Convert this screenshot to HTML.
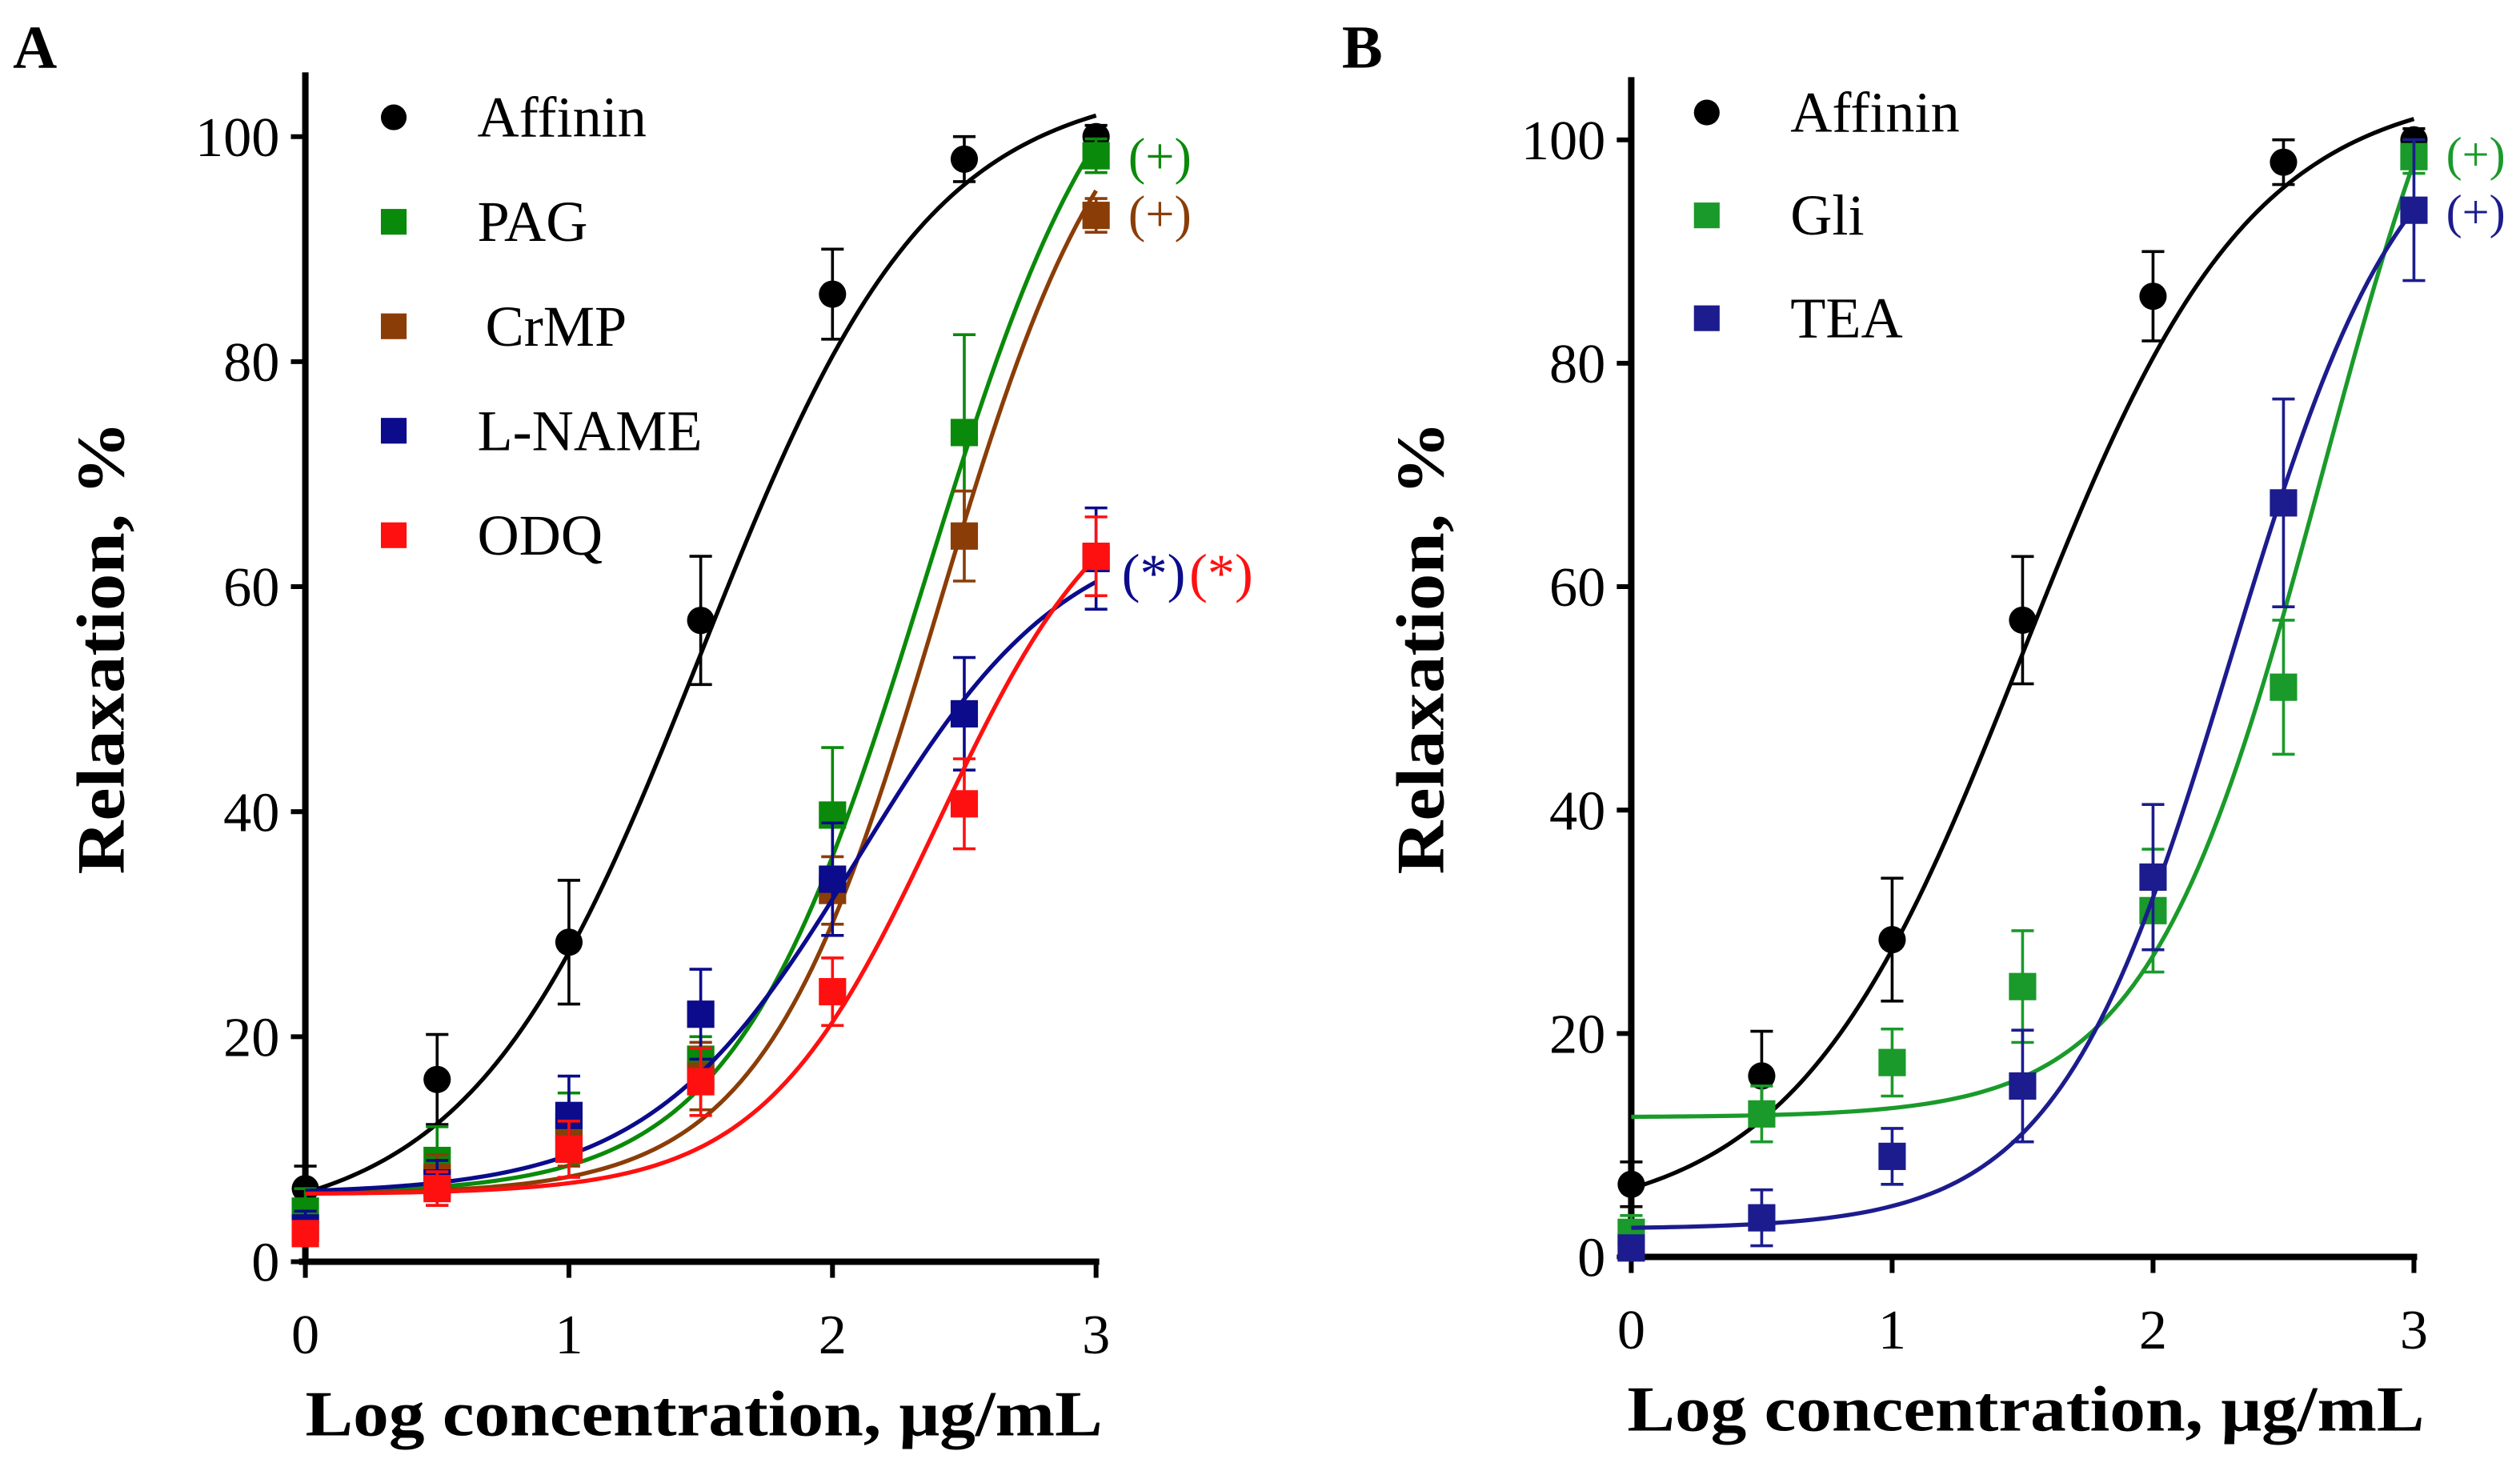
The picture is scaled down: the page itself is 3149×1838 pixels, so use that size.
<!DOCTYPE html>
<html><head><meta charset="utf-8"><style>
html,body{margin:0;padding:0;background:#fff;}
svg{display:block;font-family:"Liberation Serif",serif;}
</style></head><body>
<svg id="chart" width="3149" height="1838" viewBox="0 0 1568 915.2"></svg>
<script>
const xCats=[0,0.5,1,1.5,2,2.5,3];
const xTicks=[0,1,2,3];
const yTicks=[0,20,40,60,80,100];
// Panel A
const affininVals=[6.5,16.2,28.4,57,86,98,100];
const affininErr=[2,4,5.5,5.7,4,2,1];
const pagVals=[4.5,9,12,18,39.7,73.7,98.3];
const pagErr=[2,3,3,2,6,8.7,1.5];
const crmpVals=[3,7.5,10.5,16.5,33,64.5,93];
const crmpErr=[1.5,2,2,3,3,4,1.5];
const lnameVals=[3,7,13,22,34,48.7,62.5];
const lnameErr=[1.5,2,3.5,4,5,5,4.5];
const odqVals=[2.5,6.5,10,16,24,40.7,62.7];
const odqErr=[1,1.5,2.5,3,3,4,3.5];
// Panel B
const gliVals=[2.2,12.8,17.4,24.2,31,51,98.5];
const gliErr=[1.5,2.5,3,5,5.5,6,1.5];
const teaVals=[0.8,3.5,9,15.3,34,67.5,93.7];
const teaErr=[1,2.5,2.5,5,6.5,9.3,6.3];
// logistic fit params [bottom, top, logEC50, hill]
const affininFit=[3,105,1.5,1.0];
const pagFit=[6,115,2.35,1.2];
const crmpFit=[6,110,2.4,1.3];
const lnameFit=[6,66,2.1,1.1];
const odqFit=[6,72,2.4,1.3];
const gliFit=[12.5,128,2.65,1.3];
const teaFit=[2.5,105,2.3,1.3];

const svg=document.getElementById('chart');
const NS='http://www.w3.org/2000/svg';
function mk(tag,attrs,parent){const e=document.createElementNS(NS,tag);for(const k in attrs)e.setAttribute(k,attrs[k]);(parent||svg).appendChild(e);return e;}
function txt(s,attrs,parent){const e=mk('text',attrs,parent);e.textContent=s;return e;}
function logistic(p,x){return p[0]+(p[1]-p[0])/(1+Math.pow(10,(p[2]-x)*p[3]));}

function panel(cfg){
  const g=mk('g',{});
  
  
  const X=v=>cfg.x0+(cfg.x3-cfg.x0)*v/3;
  const Y=v=>cfg.y0+(cfg.y100-cfg.y0)*v/100;
  const lbl=txt(cfg.letter,{x:cfg.lx,y:42,'font-size':38,'font-weight':'bold'},g);
  
  
  const ya=mk('line',{x1:cfg.x0,y1:cfg.yTop,x2:cfg.x0,y2:cfg.y0+2,stroke:'#000','stroke-width':4},g);
  
  
  const xa=mk('line',{x1:cfg.x0-4,y1:cfg.y0,x2:cfg.x3+2,y2:cfg.y0,stroke:'#000','stroke-width':4},g);
  
  
  yTicks.forEach(t=>{
    mk('line',{x1:cfg.x0-9,y1:Y(t),x2:cfg.x0,y2:Y(t),stroke:'#000','stroke-width':3},g);
    const tl=txt(String(t),{x:cfg.x0-16,y:Y(t)+12,'font-size':35,'text-anchor':'end'},g);
    
    
  });
  xTicks.forEach(t=>{
    mk('line',{x1:X(t),y1:cfg.y0,x2:X(t),y2:cfg.y0+10,stroke:'#000','stroke-width':3},g);
    const tl=txt(String(t),{x:X(t),y:cfg.y0+57,'font-size':35,'text-anchor':'middle'},g);
    
    
  });
  const xt=txt('Log concentration, μg/mL',{x:(cfg.x0+cfg.x3)/2+2,y:cfg.y0+108,'font-size':40,'font-weight':'bold','text-anchor':'middle',textLength:496,lengthAdjust:'spacingAndGlyphs'},g);
  
  
  const yt=txt('Relaxation, %',{x:0,y:0,'font-size':42,'font-weight':'bold','text-anchor':'middle',textLength:282,lengthAdjust:'spacingAndGlyphs',transform:`translate(${cfg.ytx},${cfg.ytc}) rotate(-90)`},g);
  
  
  cfg.series.forEach(s=>{
    const sg=mk('g',{},g);
    
    
    let d='';
    for(let i=0;i<=120;i++){const xv=3*i/120;d+=(i?'L':'M')+X(xv).toFixed(2)+','+Y(logistic(s.fit,xv)).toFixed(2);}
    const c=mk('path',{d,fill:'none',stroke:s.color,'stroke-width':2.6},sg);
    
    
    xCats.forEach((xv,i)=>{
      const v=s.vals[i],e=s.err[i];
      const eb=mk('path',{d:`M${X(xv)},${Y(v-e)}V${Y(v+e)}M${X(xv)-7},${Y(v-e)}h14M${X(xv)-7},${Y(v+e)}h14`,stroke:s.color,'stroke-width':1.8,fill:'none'},sg);
      
      
      let m;
      if(s.shape==='circle') m=mk('circle',{cx:X(xv),cy:Y(v),r:8.5,fill:s.color},sg);
      else m=mk('rect',{x:X(xv)-8.5,y:Y(v)-8.5,width:17,height:17,fill:s.color},sg);
      
      
    });
  });
  cfg.series.forEach((s,i)=>{
    const lg=mk('g',{},g);
    
    
    const ly=cfg.legY+i*cfg.legDy;
    if(s.shape==='circle') mk('circle',{cx:cfg.legX,cy:ly,r:8,fill:s.color},lg);
    else mk('rect',{x:cfg.legX-8,y:ly-8,width:16,height:16,fill:s.color},lg);
    txt(s.label,{x:cfg.legX+52+(s.label==='CrMP'?5:0),y:ly+12,'font-size':36},lg);
  });
  cfg.notes.forEach(n=>{
    const t=txt(n[0],{x:n[1],y:n[2],'font-size':n[4]||32,fill:n[3],'font-weight':n[5]||'normal'},g);
    
    
  });
}

panel({name:'panel-a',letter:'A',lx:8,x0:190,x3:682,y0:785,y100:85,yTop:45,ytx:77,ytc:403,legX:245,legY:73,legDy:65,
  series:[
    {key:'affinin',label:'Affinin',color:'#000',shape:'circle',vals:affininVals,err:affininErr,fit:affininFit},
    {key:'pag',label:'PAG',color:'#0a8a0a',shape:'square',vals:pagVals,err:pagErr,fit:pagFit},
    {key:'crmp',label:'CrMP',color:'#8b3d07',shape:'square',vals:crmpVals,err:crmpErr,fit:crmpFit},
    {key:'lname',label:'L-NAME',color:'#0b0b8c',shape:'square',vals:lnameVals,err:lnameErr,fit:lnameFit},
    {key:'odq',label:'ODQ',color:'#ff1010',shape:'square',vals:odqVals,err:odqErr,fit:odqFit}],
  notes:[['(+)',702,108,'#0a8a0a'],['(+)',702,144,'#8b3d07'],['(*)',698,368,'#0b0b8c',34],['(*)',740,368,'#ff1010',34]]});

panel({name:'panel-b',letter:'B',lx:835,x0:1015,x3:1502,y0:782,y100:87,yTop:48,ytx:898,ytc:403,legX:1062,legY:70,legDy:64,
  series:[
    {key:'affinin-b',label:'Affinin',color:'#000',shape:'circle',vals:affininVals,err:affininErr,fit:affininFit},
    {key:'gli',label:'Gli',color:'#1a9a2a',shape:'square',vals:gliVals,err:gliErr,fit:gliFit},
    {key:'tea',label:'TEA',color:'#1c1c8e',shape:'square',vals:teaVals,err:teaErr,fit:teaFit}],
  notes:[['(+)',1522,106,'#1a9a2a',30],['(+)',1522,142,'#1c1c8e',30]]});
</script>
</body></html>
